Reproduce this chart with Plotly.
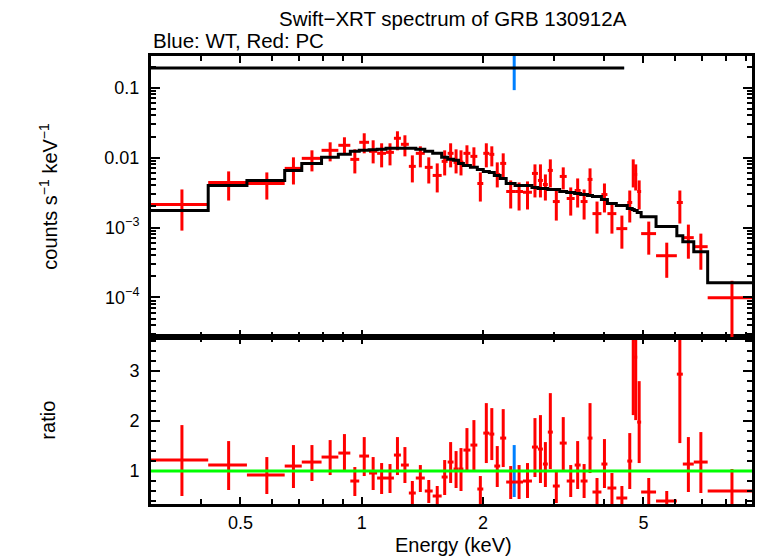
import numpy as np
import plotly.graph_objects as go

# ---------------- data ----------------
# PC mode spectrum: energy bin edges (keV)
pc_edges = [0.30, 0.416, 0.519, 0.644, 0.710, 0.795, 0.875, 0.937, 0.986, 1.043,
            1.092, 1.149, 1.202, 1.251, 1.309, 1.362, 1.434, 1.500, 1.579, 1.634,
            1.690, 1.739, 1.788, 1.861, 1.936, 2.003, 2.073, 2.133, 2.206, 2.283,
            2.402, 2.513, 2.645, 2.737, 2.816, 2.896, 2.980, 3.100, 3.226, 3.376,
            3.493, 3.634, 3.738, 3.934, 4.071, 4.284, 4.560, 4.691, 4.745, 4.826,
            4.936, 5.375, 6.053, 6.263, 6.668, 7.219, 9.37]
# counts s^-1 keV^-1
pc_flux = [2.13e-3, 4.41e-3, 4.26e-3, 7.00e-3, 9.74e-3, 1.269e-2, 1.497e-2, 9.42e-3, 1.652e-2, 1.227e-2,
           1.149e-2, 1.187e-2, 1.886e-2, 1.547e-2, 7.48e-3, 1.149e-2, 7.24e-3, 5.55e-3, 8.82e-3, 1.149e-2,
           8.53e-3, 8.60e-3, 1.149e-2, 1.04e-2, 4.26e-3, 1.149e-2, 1.111e-2, 5.74e-3, 8.25e-3, 3.27e-3,
           3.27e-3, 3.19e-3, 5.93e-3, 4.71e-3, 4.12e-3, 6.55e-3, 2.35e-3, 5.37e-3, 2.60e-3, 3.38e-3,
           2.35e-3, 4.87e-3, 1.58e-3, 2.96e-3, 1.58e-3, 9.64e-4, 2.28e-3, 6.55e-3, 5.74e-3, 3.27e-3,
           8.18e-4, 3.95e-4, 2.28e-3, 7.16e-4, 5.32e-4, 9.87e-5]
pc_flux_lo = [9.03e-4, 2.43e-3, 2.51e-3, 4.12e-3, 6.34e-3, 8.82e-3, 1.149e-2, 5.93e-3, 1.149e-2, 8.25e-3,
              7.24e-3, 7.73e-3, 1.269e-2, 1.04e-2, 4.41e-3, 7.24e-3, 4.26e-3, 3.17e-3, 5.55e-3, 7.24e-3,
              5.93e-3, 5.55e-3, 7.99e-3, 7.24e-3, 2.35e-3, 7.24e-3, 7.48e-3, 3.74e-3, 5.20e-3, 1.87e-3,
              1.75e-3, 1.81e-3, 2.69e-3, 2.69e-3, 2.43e-3, 3.74e-3, 1.256e-3, 3.50e-3, 1.48e-3, 1.93e-3,
              1.30e-3, 2.96e-3, 8.18e-4, 1.64e-3, 8.18e-4, 4.98e-4, 1.18e-3, 3.74e-3, 3.38e-3, 1.81e-3,
              4.09e-4, 1.91e-4, 1.14e-3, 3.58e-4, 2.49e-4, 2.5e-5]
pc_flux_hi = [3.50e-3, 6.34e-3, 6.13e-3, 1.007e-2, 1.269e-2, 1.652e-2, 1.949e-2, 1.311e-2, 2.224e-2, 1.765e-2,
              1.599e-2, 1.599e-2, 2.375e-2, 2.082e-2, 1.075e-2, 1.448e-2, 1.007e-2, 8.25e-3, 1.269e-2, 1.599e-2,
              1.311e-2, 1.269e-2, 1.497e-2, 1.401e-2, 6.13e-3, 1.599e-2, 1.448e-2, 8.53e-3, 1.149e-2, 4.71e-3,
              4.41e-3, 4.56e-3, 7.99e-3, 7.99e-3, 5.74e-3, 9.42e-3, 3.50e-3, 7.24e-3, 3.74e-3, 5.03e-3,
              3.50e-3, 7.00e-3, 2.35e-3, 4.26e-3, 2.28e-3, 1.48e-3, 3.38e-3, 9.42e-3, 7.99e-3, 4.71e-3,
              1.215e-3, 6.07e-4, 3.38e-3, 1.10e-3, 8.18e-4, 1.73e-4]
pc_model = [1.75e-3, 3.99e-3, 4.71e-3, 6.55e-3, 8.25e-3, 1.007e-2, 1.111e-2, 1.227e-2, 1.269e-2, 1.29e-2,
            1.311e-2, 1.355e-2, 1.355e-2, 1.355e-2, 1.355e-2, 1.311e-2, 1.227e-2, 1.149e-2, 1.007e-2, 9.42e-3,
            9.12e-3, 8.25e-3, 7.73e-3, 7.24e-3, 6.77e-3, 6.34e-3, 6.13e-3, 5.55e-3, 5.03e-3, 4.26e-3,
            3.99e-3, 3.99e-3, 3.74e-3, 3.61e-3, 3.61e-3, 3.50e-3, 3.50e-3, 3.27e-3, 3.17e-3, 3.06e-3,
            2.96e-3, 2.87e-3, 2.78e-3, 2.51e-3, 2.20e-3, 2.06e-3, 1.87e-3, 1.81e-3, 1.75e-3, 1.64e-3,
            1.43e-3, 1.03e-3, 7.65e-4, 6.27e-4, 4.51e-4, 1.62e-4]
pc_ratio = [1.22, 1.12, 0.92, 1.10, 1.18, 1.28, 1.36, 0.80, 1.30, 0.96,
            0.86, 0.86, 1.32, 1.12, 0.56, 0.86, 0.60, 0.50, 0.88, 1.18,
            1.04, 1.04, 1.42, 1.52, 0.64, 1.76, 1.74, 1.10, 1.66, 0.78,
            0.78, 0.80, 1.48, 1.44, 1.14, 1.78, 0.70, 1.56, 0.80, 1.12,
            0.80, 1.66, 0.58, 1.14, 0.66, 0.46, 1.20, 3.60, 3.28, 1.98,
            0.58, 0.40, 2.94, 1.14, 1.18, 0.60]
pc_ratio_lo = [0.50, 0.62, 0.54, 0.66, 0.80, 0.92, 1.02, 0.50, 0.90, 0.62,
               0.54, 0.56, 0.92, 0.76, 0.32, 0.58, 0.36, 0.22, 0.52, 0.76,
               0.66, 0.60, 1.02, 1.02, 0.32, 1.16, 1.22, 0.68, 1.08, 0.44,
               0.44, 0.46, 0.88, 0.76, 0.68, 1.04, 0.36, 1.02, 0.48, 0.64,
               0.46, 0.96, 0.28, 0.66, 0.32, 0.22, 0.64, 2.12, 2.02, 1.16,
               0.28, 0.22, 1.56, 0.58, 0.56, 0.12]
pc_ratio_hi = [1.92, 1.60, 1.28, 1.52, 1.52, 1.62, 1.74, 1.08, 1.68, 1.28,
               1.16, 1.14, 1.68, 1.48, 0.80, 1.12, 0.82, 0.70, 1.22, 1.58,
               1.40, 1.46, 1.86, 2.02, 0.90, 2.36, 2.26, 1.50, 2.24, 1.10,
               1.12, 1.16, 2.06, 2.12, 1.58, 2.56, 1.02, 2.08, 1.12, 1.60,
               1.14, 2.36, 0.86, 1.64, 0.96, 0.70, 1.76, 5.08, 4.54, 2.80,
               0.86, 0.60, 4.32, 1.68, 1.78, 1.04]

# WT mode spectrum: a single wide bin
wt_edges = [0.30, 4.48]
wt_flux = [0.19]
wt_flux_lo = [0.092]
wt_flux_hi = [0.29]
wt_model = [0.19]
wt_ratio = [1.0]
wt_ratio_lo = [0.48]
wt_ratio_hi = [1.52]

# axis ranges and ticks
x_range = [0.30, 9.3]
flux_range = [2.73e-5, 0.283]
ratio_range = [0.34, 3.686]
x_tickvals = [0.5, 1, 2, 5]
x_ticktext = ["0.5", "1", "2", "5"]
x_minor = [0.3, 0.4, 0.6, 0.7, 0.8, 0.9, 3, 4, 6, 7, 8, 9]
flux_tickvals = [1e-4, 1e-3, 1e-2, 0.1]
flux_ticktext = ["10<sup>−4</sup>", "10<sup>−3</sup>", "0.01", "0.1"]
ratio_tickvals = [1, 2, 3]

title_text = "Swift−XRT spectrum of GRB 130912A"
subtitle_text = "Blue: WT, Red: PC"

# ---------------- build figure ----------------
RED = "#ff0000"
BLUE = "#0080ff"
GREEN = "#00ff00"
FONT = "Liberation Sans, Arial, sans-serif"


def bins(edges):
    e = np.array(edges)
    lo, hi = e[:-1], e[1:]
    return (lo + hi) / 2, (hi - lo) / 2


def err_trace(edges, y, ylo, yhi, color, xa, ya, xthick=3):
    xc, xe = bins(edges)
    y = np.array(y)
    return go.Scatter(
        x=xc, y=y, mode="markers", marker=dict(size=1, color=color),
        error_x=dict(type="data", array=xe, symmetric=True, color=color, thickness=xthick, width=0),
        error_y=dict(type="data", array=np.array(yhi) - y, arrayminus=y - np.array(ylo),
                     symmetric=False, color=color, thickness=3, width=0),
        xaxis=xa, yaxis=ya, showlegend=False, hoverinfo="skip")


def step_trace(edges, model, xa, ya):
    yy = list(model) + [model[-1]]
    return go.Scatter(x=edges, y=yy, mode="lines", line=dict(color="black", width=3, shape="hv"),
                      xaxis=xa, yaxis=ya, showlegend=False, hoverinfo="skip")


fig = go.Figure()
# top panel (x2, y2)
fig.add_trace(err_trace(wt_edges, wt_flux, wt_flux_lo, wt_flux_hi, BLUE, "x2", "y2", xthick=1.5))
fig.add_trace(err_trace(pc_edges, pc_flux, pc_flux_lo, pc_flux_hi, RED, "x2", "y2"))
fig.add_trace(step_trace(pc_edges, pc_model, "x2", "y2"))
fig.add_trace(step_trace(wt_edges, wt_model, "x2", "y2"))
# bottom panel (x, y)
fig.add_trace(err_trace(wt_edges, wt_ratio, wt_ratio_lo, wt_ratio_hi, BLUE, "x", "y", xthick=1.5))
fig.add_trace(err_trace(pc_edges, pc_ratio, pc_ratio_lo, pc_ratio_hi, RED, "x", "y"))

TICK_FONT = dict(family=FONT, size=18, color="black")
axis_common = dict(showline=True, linecolor="black", linewidth=3, mirror="allticks",
                   ticks="inside", tickcolor="black", tickwidth=2, showgrid=False, zeroline=False,
                   tickfont=TICK_FONT)
minor_common = dict(ticklen=5, ticks="inside", tickcolor="black", tickwidth=2, showgrid=False)

xlog_range = [np.log10(x_range[0]), np.log10(x_range[1])]
fig.update_layout(
    width=758, height=556,
    margin=dict(l=151, r=3, t=56, b=52),
    paper_bgcolor="white", plot_bgcolor="white",
    font=dict(family=FONT, size=18, color="black"),
    xaxis=dict(domain=[0, 1], anchor="y", type="log", range=xlog_range,
               tickmode="array", tickvals=x_tickvals, ticktext=x_ticktext, ticklen=7,
               minor=dict(tickmode="array", tickvals=x_minor, **minor_common),
               **axis_common),
    xaxis2=dict(domain=[0, 1], anchor="y2", type="log", range=xlog_range, matches="x",
                tickmode="array", tickvals=x_tickvals, ticktext=x_ticktext, ticklen=7,
                showticklabels=False,
                minor=dict(tickmode="array", tickvals=x_minor, **minor_common),
                **axis_common),
    yaxis=dict(domain=[0, 0.373], anchor="x", range=ratio_range,
               tickmode="array", tickvals=ratio_tickvals, ticklen=9, ticklabelstandoff=5,
               minor=dict(dtick=0.2, tick0=0, **minor_common),
               **axis_common),
    yaxis2=dict(domain=[0.373, 1], anchor="x2", type="log",
                range=[np.log10(flux_range[0]), np.log10(flux_range[1])],
                tickmode="array", tickvals=flux_tickvals, ticktext=flux_ticktext, ticklen=9,
                ticklabelstandoff=5,
                minor=dict(tickmode="array",
                           tickvals=[m * 10.0 ** k for k in range(-5, 0) for m in range(2, 10)],
                           **minor_common),
                **axis_common),
)

# unity line in ratio panel
fig.add_shape(type="line", xref="x domain", yref="y", x0=0, x1=1, y0=1, y1=1,
              line=dict(color=GREEN, width=3), layer="above")

TITLE_FONT = dict(family=FONT, size=20.5, color="black")
LABEL_FONT = dict(family=FONT, size=20, color="black")
fig.add_annotation(text=title_text, xref="paper", yref="paper", x=0.503, y=1.0848,
                   xanchor="center", yanchor="middle", showarrow=False, font=TITLE_FONT)
fig.add_annotation(text=subtitle_text, xref="paper", yref="paper", x=0.0, y=1.0357,
                   xanchor="left", yanchor="middle", showarrow=False, font=TITLE_FONT)
fig.add_annotation(text="counts s<sup>−1</sup> keV<sup>−1</sup>", xref="paper", yref="paper",
                   x=-0.172, y=0.6875, xanchor="center", yanchor="middle", textangle=-90,
                   showarrow=False, font=LABEL_FONT)
fig.add_annotation(text="ratio", xref="paper", yref="paper", x=-0.172, y=0.1875,
                   xanchor="center", yanchor="middle", textangle=-90, showarrow=False, font=LABEL_FONT)
fig.add_annotation(text="Energy (keV)", xref="paper", yref="paper", x=0.503, y=-0.0915,
                   xanchor="center", yanchor="middle", showarrow=False, font=LABEL_FONT)

fig.write_html("out.html", config={"displayModeBar": False},
               post_script="document.body.style.margin='0';document.body.style.padding='0';")
